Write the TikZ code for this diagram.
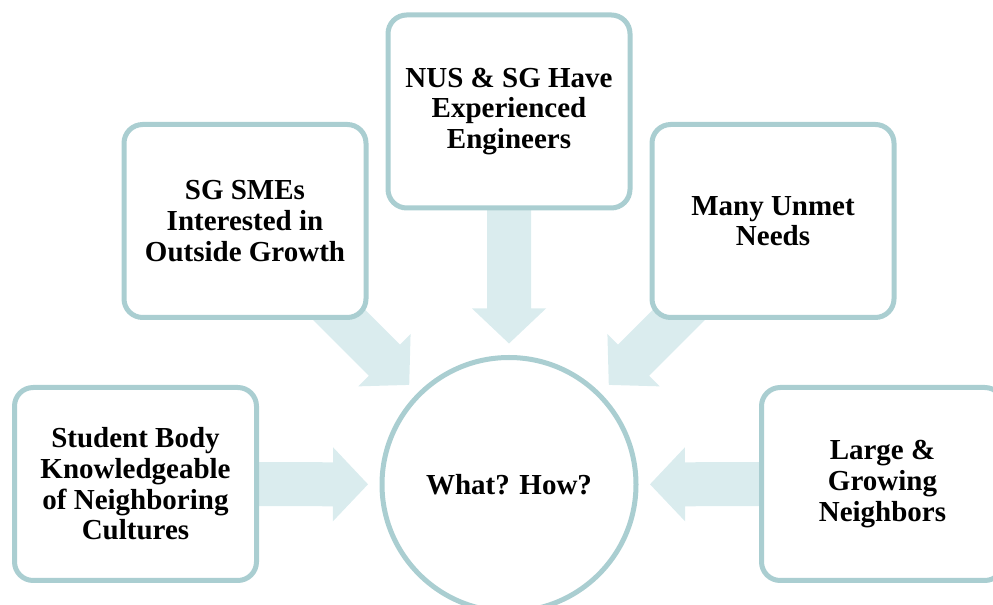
\documentclass[tikz,border=0pt]{standalone}
\usepackage{fontspec}
\setmainfont{Liberation Serif}
\usetikzlibrary{calc,backgrounds}
\definecolor{edgeteal}{RGB}{170,206,209}
\definecolor{flowfill}{RGB}{218,236,238}
\begin{document}
\begin{tikzpicture}[x=0.75pt,y=-0.75pt,
  box/.style={draw=edgeteal, line width=3.75pt, fill=white, rounded corners=14pt,
    minimum width=181.5pt, minimum height=144.75pt, align=center,
    font=\bfseries\fontsize{21.75}{23}\selectfont},
  hub/.style={circle, draw=edgeteal, line width=3.75pt, fill=white, inner sep=0pt,
    minimum size=190.5pt, font=\bfseries\fontsize{21.75}{23}\selectfont},
  flow/.style={fill=flowfill}]
  \useasboundingbox (0,0) rectangle (993,605);
  \node[hub] (hub) at (509,484.5) {What? How?};
  \node[box] (stud) at (135.5,484) {Student Body\\Knowledgeable\\of Neighboring\\Cultures};
  \node[box] (smes) at (245,221) {SG SMEs\\Interested in\\Outside Growth};
  \node[box] (nus) at (509,111.5) {NUS \& SG Have\\Experienced\\Engineers};
  \node[box] (unmet) at (773,221) {Many Unmet\\Needs};
  \node[box] (large) at (882.5,484) {Large \&\\Growing\\Neighbors};
  \begin{pgfonlayer}{background}
    \foreach \src in {stud,smes,nus,unmet,large} {
      \coordinate (tip) at ($(hub)!105.75pt!(\src)$);
      \coordinate (base) at ($(tip)!26.25pt!(\src)$);
      \fill[flow] ($(\src)!16.5pt!90:(tip)$) -- ($(base)!16.5pt!90:(tip)$)
        -- ($(base)!27.75pt!90:(tip)$) -- (tip) -- ($(base)!27.75pt!-90:(tip)$)
        -- ($(base)!16.5pt!-90:(tip)$) -- ($(\src)!16.5pt!-90:(tip)$) -- cycle;
    }
  \end{pgfonlayer}
\end{tikzpicture}
\end{document}
